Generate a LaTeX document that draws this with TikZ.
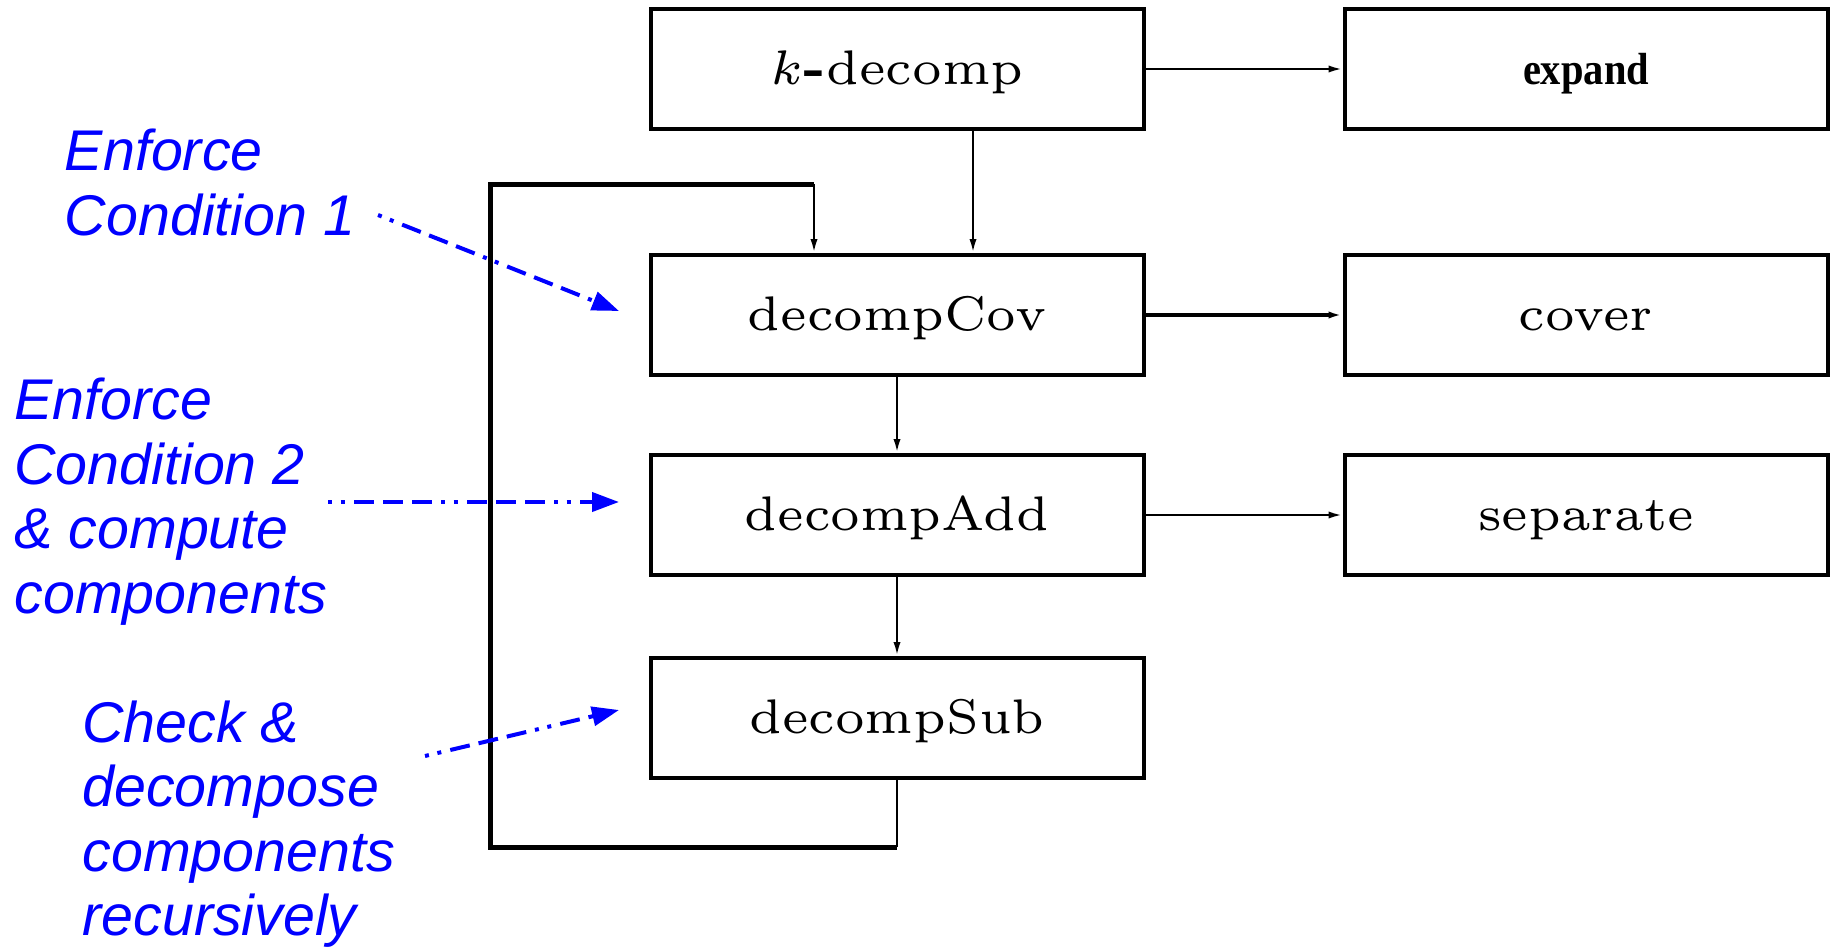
\documentclass[tikz,border=0pt]{standalone}
\usepackage{fontspec}
\usepackage{graphicx}
\usetikzlibrary{arrows.meta,calc}
\newfontfamily\notefont{Liberation Sans}
\newfontfamily\timesfont{Liberation Serif}

% box labels: a small optical size of Latin Modern, enlarged
\newcommand{\boxtext}[1]{\scalebox{4.05}{\fontsize{6}{7}\selectfont #1}}

\tikzset{
  proc/.style={draw, line width=2pt, minimum width=246.5pt, minimum height=60pt,
               inner sep=0pt, fill=white, text height=20pt, text depth=5pt},
  sideproc/.style={proc, minimum width=241.5pt},
  flow/.style={line width=1.2pt, -{Latex[length=7pt,width=3.6pt]}},
  loopline/.style={line width=2.5pt, line join=miter},
  note/.style={text=blue, font=\notefont\itshape\fontsize{28.7}{32.25}\selectfont,
               align=left, anchor=north west, inner sep=0pt},
  hint/.style={blue, line width=2pt,
               dash pattern=on 2pt off 4.35pt on 2pt off 4.65pt on 10pt off 4.5pt on 10pt off 4.5pt on 10pt off 4.5pt,
               -{Triangle[length=13.5pt,width=9.5pt]}}
}

\begin{document}
\begin{tikzpicture}[x=0.5pt, y=-0.5pt]
  \useasboundingbox[fill=white] (0,0) rectangle (1839,947);

  % procedures
  \node[proc] (kdec) at (897,69) {\boxtext{$k${\bfseries -}decomp}};
  \node[sideproc] (exp) at (1586,69)
    {\scalebox{0.9}[1]{\timesfont\bfseries\fontsize{22.5}{27}\selectfont expand}};
  \node[proc] (cov) at (897,315) {\boxtext{decompCov}};
  \node[sideproc] (cover) at (1586,315) {\boxtext{cover}};
  \node[proc] (add) at (897,515) {\boxtext{decompAdd}};
  \node[sideproc] (sep) at (1586,515) {\boxtext{separate}};
  \node[proc] (sub) at (897,718) {\boxtext{decompSub}};

  % calls
  \draw[flow] (kdec) -- (exp);
  \draw[flow] ([xshift=38pt]kdec.south) -- ([xshift=38pt]cov.north);
  \draw[flow, line width=2pt] (cov) -- (cover);
  \draw[flow] (cov) -- (add);
  \draw[flow] (add) -- (sep);
  \draw[flow] (add) -- (sub);

  % recursion loop back into decompCov
  \coordinate (lb) at (490,847);
  \coordinate (lt) at (490,184);
  \coordinate (entry) at ([xshift=-41.5pt]cov.north);
  \draw[line width=1.2pt] (sub.south) -- (sub.south |- lb);
  \draw[loopline] (sub.south |- lb) -- (lb) -- (lt) -- (lt -| entry);
  \draw[flow] (lt -| entry) -- (entry);

  % annotations
  \node[note] (n1) at (64.5,129) {Enforce\\Condition 1};
  \node[note] (n2) at (14,378) {Enforce\\Condition 2\\\& compute\\components};
  \node[note] (n3) at (82,700) {Check \&\\decompose\\components\\recursively};

  \coordinate (h1s) at (378,215);
  \coordinate (h1e) at (619,311);
  \coordinate (h2s) at (328,502);
  \coordinate (h2e) at (619,502);
  \coordinate (h3s) at (425,756);
  \coordinate (h3e) at (619,710);
  \draw[hint] (h1s) -- (h1e);
  \draw[hint] (h2s) -- (h2e);
  \draw[hint] (h3s) -- (h3e);
\end{tikzpicture}
\end{document}
